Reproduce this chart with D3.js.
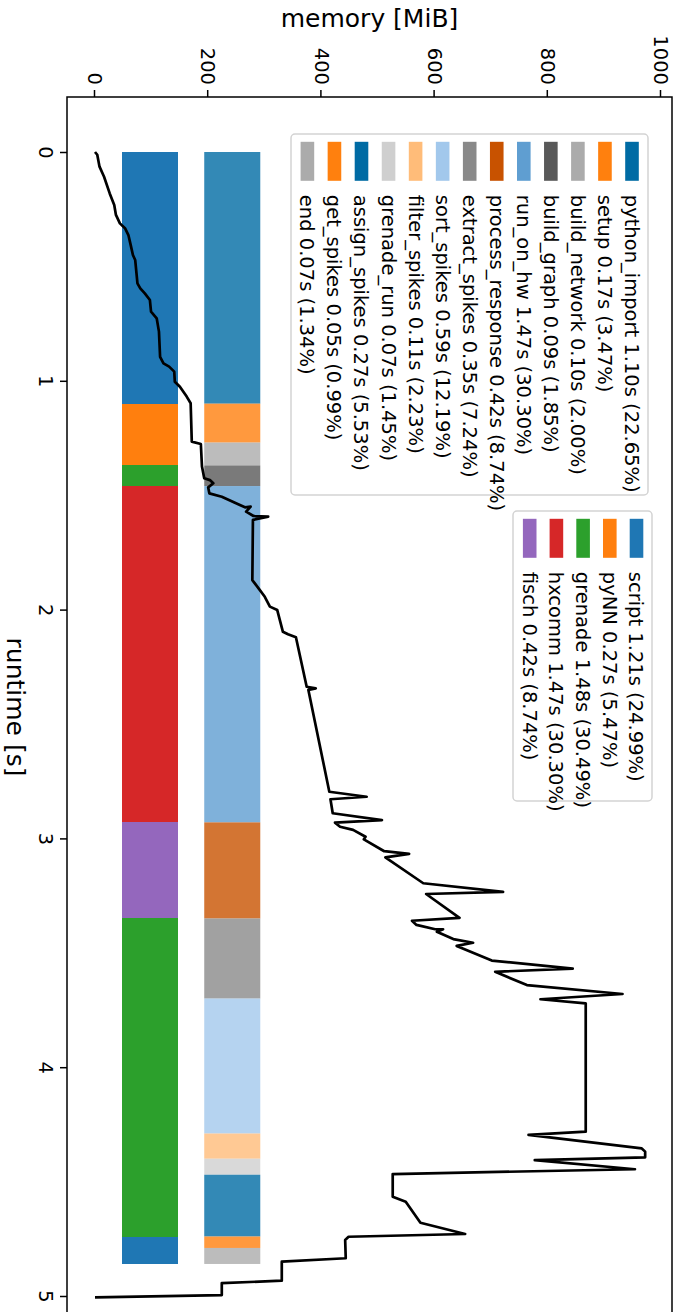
<!DOCTYPE html>
<html>
<head>
<meta charset="utf-8">
<script src="https://cdn.jsdelivr.net/npm/d3@7"></script>
<style>
  body { margin: 0; background: #fff; }
  svg { display: block; }
  text { font-family: "DejaVu Sans", sans-serif; fill: #000; }
</style>
</head>
<body>
<svg id="chart" width="677" height="1312"></svg>
<script>
// Fine-grained phases of one run
const phases = ["python_import", "setup", "build_network", "build_graph", "run_on_hw",
  "process_response", "extract_spikes", "sort_spikes", "filter_spikes", "grenade_run",
  "assign_spikes", "get_spikes", "end"];
const phaseDurations = [1.10, 0.17, 0.10, 0.09, 1.47, 0.42, 0.35, 0.59, 0.11, 0.07, 0.27, 0.05, 0.07];
const phasePercents = ["22.65", "3.47", "2.00", "1.85", "30.30", "8.74", "7.24", "12.19", "2.23", "1.45", "5.53", "0.99", "1.34"];
const phaseColors = ["#006BA4", "#FF800E", "#ABABAB", "#595959", "#5F9ED1", "#C85200", "#898989",
  "#A2C8EC", "#FFBC79", "#CFCFCF", "#006BA4", "#FF800E", "#ABABAB"];
// Which software layer each phase belongs to
const phaseGroup = ["script", "pyNN", "pyNN", "grenade", "hxcomm", "fisch", "grenade",
  "grenade", "grenade", "grenade", "grenade", "script", "script"];

// Coarse software layers
const groups = ["script", "pyNN", "grenade", "hxcomm", "fisch"];
const groupDurations = [1.21, 0.27, 1.48, 1.47, 0.42];
const groupPercents = ["24.99", "5.47", "30.49", "30.30", "8.74"];
const groupColors = ["#1f77b4", "#ff7f0e", "#2ca02c", "#d62728", "#9467bd"];

// Sampled memory usage over the run
const memTime = [0.000, 0.012, 0.064, 0.108, 0.181, 0.232, 0.275, 0.312, 0.333, 0.363,
  0.406, 0.450, 0.472, 0.574, 0.596, 0.618, 0.647, 0.698, 0.727, 0.785,
  0.895, 0.924, 0.938, 0.960, 1.004, 1.026, 1.069, 1.098, 1.266, 1.276,
  1.375, 1.426, 1.434, 1.448, 1.466, 1.492, 1.507, 1.543, 1.553, 1.550,
  1.572, 1.591, 1.594, 1.608, 1.871, 1.907, 1.944, 1.987, 2.002, 2.097,
  2.108, 2.121, 2.337, 2.344, 2.351, 2.796, 2.818, 2.829, 2.890, 2.920,
  2.931, 2.949, 2.963, 2.993, 3.004, 3.056, 3.068, 3.083, 3.196, 3.234,
  3.243, 3.347, 3.360, 3.378, 3.397, 3.397, 3.408, 3.440, 3.456, 3.470,
  3.534, 3.569, 3.583, 3.641, 3.680, 3.703, 3.721, 4.282, 4.296, 4.355,
  4.369, 4.394, 4.406, 4.446, 4.467, 4.566, 4.588, 4.680, 4.729, 4.741,
  4.755, 4.835, 4.850, 4.933, 4.944, 4.996, 5.006];
const memUsage = [0, 4, 8, 16, 26, 34, 37, 44, 53, 59,
  63, 67, 71, 75, 80, 88, 97, 99, 109, 113,
  115, 121, 131, 140, 141, 150, 162, 169, 171, 187,
  189, 193, 203, 209, 200, 202, 224, 256, 265, 275,
  267, 280, 306, 279, 278, 289, 300, 309, 322, 332,
  341, 355, 374, 390, 377, 414, 480, 416, 420, 507,
  424, 433, 456, 478, 475, 511, 555, 513, 580, 721,
  585, 644, 560, 568, 601, 615, 604, 633, 668, 639,
  701, 844, 707, 763, 932, 787, 867, 867, 766, 966,
  972, 972, 777, 954, 526, 526, 549, 575, 654, 448,
  442, 443, 330, 330, 224, 224, 0];

const runtimeTicks = [0, 1, 2, 3, 4, 5];
const memoryTicks = [0, 200, 400, 600, 800, 1000];

// The figure is laid out landscape (runtime along the horizontal) and turned a quarter clockwise
const W = 1312, H = 677;
const svg = d3.select("#chart");
const fig = svg.append("g").attr("transform", `translate(${H},0) rotate(90)`);

const FS = 19.5;       // tick / legend font size
const LABEL_FS = 25;   // axis label font size

const x = d3.scaleLinear().domain([0, 5]).range([152, 1296]);
const y = d3.scaleLinear().domain([0, 1000]).range([582, 16]);

const frame = { left: 97, right: 1360, top: 5, bottom: 610 };

// Stacked timeline bars
const starts = [0, ...d3.cumsum(phaseDurations)].slice(0, phases.length);
const phaseRows = phases.map((p, i) => ({
  name: p, start: starts[i], dur: phaseDurations[i],
  color: phaseColors[i], group: phaseGroup[i]
}));

const coarseBand = [47, 147];
const fineBand = [193, 292];

fig.append("g").selectAll("rect")
  .data(phaseRows)
  .join("rect")
  .attr("x", d => x(d.start))
  .attr("width", d => x(d.start + d.dur) - x(d.start))
  .attr("y", y(coarseBand[1]))
  .attr("height", y(coarseBand[0]) - y(coarseBand[1]))
  .attr("fill", d => groupColors[groups.indexOf(d.group)])
  .attr("shape-rendering", "crispEdges");

fig.append("g").selectAll("rect")
  .data(phaseRows)
  .join("rect")
  .attr("x", d => x(d.start))
  .attr("width", d => x(d.start + d.dur) - x(d.start))
  .attr("y", y(fineBand[1]))
  .attr("height", y(fineBand[0]) - y(fineBand[1]))
  .attr("fill", d => d.color)
  .attr("fill-opacity", 0.8);

// Memory trace
const memPoints = memTime.map((t, i) => [t, memUsage[i]]);
fig.append("path")
  .datum(memPoints)
  .attr("fill", "none")
  .attr("stroke", "#000")
  .attr("stroke-width", 2.7)
  .attr("stroke-linejoin", "round")
  .attr("stroke-linecap", "butt")
  .attr("d", d3.line().x(d => x(d[0])).y(d => y(d[1])));

// Legends
function legend(box, entries, firstCenter, step) {
  const lg = fig.append("g");
  lg.append("rect")
    .attr("x", box.x0).attr("y", box.y0)
    .attr("width", box.x1 - box.x0).attr("height", box.y1 - box.y0)
    .attr("rx", 4).attr("ry", 4)
    .attr("fill", "#fff").attr("fill-opacity", 0.8)
    .attr("stroke", "#d3d3d3").attr("stroke-width", 1.5);
  const row = lg.selectAll("g.entry").data(entries).join("g")
    .attr("class", "entry")
    .attr("transform", (d, i) => `translate(0,${firstCenter + i * step})`);
  row.append("rect")
    .attr("x", box.x0 + 7.8).attr("y", -6.8)
    .attr("width", 39).attr("height", 13.6)
    .attr("fill", d => d.color);
  row.append("text")
    .attr("x", box.x0 + 7.8 + 39 + 14)
    .attr("y", 0).attr("dy", "0.36em")
    .attr("font-size", FS)
    .text(d => d.label);
}

legend({ x0: 134, x1: 495, y0: 29, y1: 386 },
  phases.map((p, i) => ({
    color: phaseColors[i],
    label: `${p} ${phaseDurations[i].toFixed(2)}s (${phasePercents[i]}%)`
  })), 45, 27.05);

legend({ x0: 511, x1: 801, y0: 25, y1: 164 },
  groups.map((g, i) => ({
    color: groupColors[i],
    label: `${g} ${groupDurations[i].toFixed(2)}s (${groupPercents[i]}%)`
  })), 40.5, 26.7);

// Axes frame
fig.append("rect")
  .attr("x", frame.left).attr("y", frame.top)
  .attr("width", frame.right - frame.left).attr("height", frame.bottom - frame.top)
  .attr("fill", "none").attr("stroke", "#000").attr("stroke-width", 1.5);

const xAxis = fig.append("g")
  .attr("transform", `translate(0,${frame.bottom})`)
  .call(d3.axisBottom(x).tickValues(runtimeTicks).tickFormat(d3.format("d"))
    .tickSize(7).tickPadding(7));
const yAxis = fig.append("g")
  .attr("transform", `translate(${frame.left},0)`)
  .call(d3.axisLeft(y).tickValues(memoryTicks).tickFormat(d3.format("d"))
    .tickSize(7).tickPadding(5));
[xAxis, yAxis].forEach(a => {
  a.select(".domain").remove();
  a.selectAll(".tick line").attr("stroke", "#000").attr("stroke-width", 1.5);
  a.selectAll(".tick text").attr("font-size", FS)
    .attr("font-family", "DejaVu Sans, sans-serif").attr("fill", "#000");
});

// Axis titles
fig.append("text")
  .attr("x", 707).attr("y", 670)
  .attr("text-anchor", "middle")
  .attr("font-size", LABEL_FS)
  .text("runtime [s]");

fig.append("text")
  .attr("transform", `translate(27,${(frame.top + frame.bottom) / 2}) rotate(-90)`)
  .attr("text-anchor", "middle")
  .attr("font-size", LABEL_FS)
  .text("memory [MiB]");
</script>
</body>
</html>
